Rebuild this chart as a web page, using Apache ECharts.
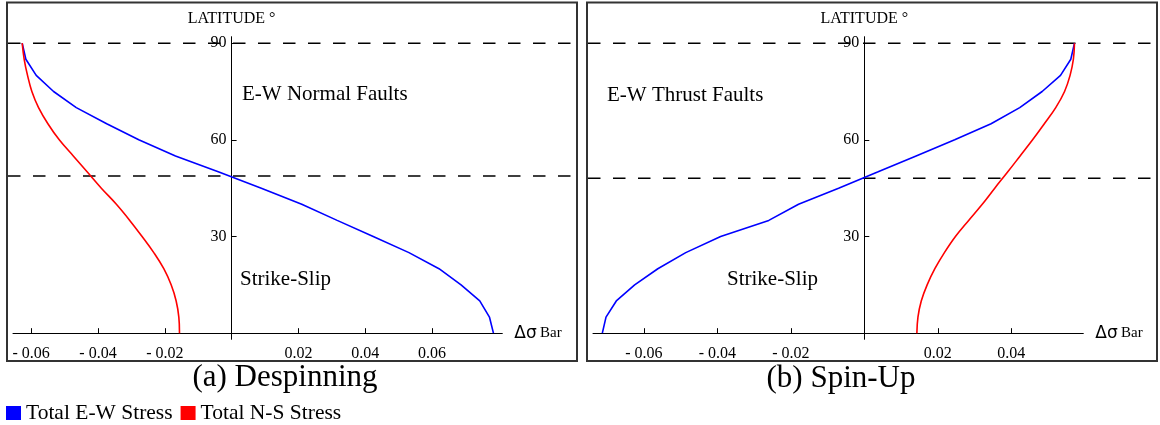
<!DOCTYPE html>
<html>
<head>
<meta charset="utf-8">
<script src="https://cdn.jsdelivr.net/npm/echarts@6/dist/echarts.min.js"></script>
<style>
  html, body { margin: 0; padding: 0; background: #fff; }
  #chart { width: 1160px; height: 425px; }
</style>
</head>
<body>
<div id="chart"></div>
<script>
// 纬度 (0..90, 每5度一个点)
const lat = [0, 5, 10, 15, 20, 25, 30, 35, 40, 45, 50, 55, 60, 65, 70, 75, 80, 85, 90]

// (a) Despinning
const ewDespin = [0.0784, 0.0772, 0.0743, 0.0687, 0.0621, 0.0531, 0.0424, 0.0316, 0.0210, 0.0089,
  -0.0038, -0.0168, -0.0278, -0.0374, -0.0465, -0.0533, -0.0585, -0.0616, -0.0627]
const nsDespin = [-0.0156, -0.0158, -0.0166, -0.0181, -0.0203, -0.0233, -0.0268, -0.0305, -0.0345, -0.0390,
  -0.0432, -0.0474, -0.0516, -0.0550, -0.0578, -0.0598, -0.0611, -0.0621, -0.0627]

// (b) Spin-Up
const ewSpinUp = [-0.0713, -0.0703, -0.0675, -0.0625, -0.0562, -0.0486, -0.0391, -0.0260, -0.0179, -0.0070,
  0.0036, 0.0141, 0.0246, 0.0345, 0.0423, 0.0484, 0.0534, 0.0562, 0.0572]
const nsSpinUp = [0.0143, 0.0146, 0.0155, 0.0171, 0.0192, 0.0218, 0.0248, 0.0284, 0.0321, 0.0355,
  0.0390, 0.0424, 0.0458, 0.0490, 0.0521, 0.0545, 0.0560, 0.0569, 0.0572]

// 虚线参考纬度
const refLatDespin = [90, 48.8]
const refLatSpinUp = [90, 48.1]

// 刻度
const yTicks = [30, 60, 90]
const xTicksDespin = [-0.06, -0.04, -0.02, 0.02, 0.04, 0.06]
const xTicksSpinUp = [-0.06, -0.04, -0.02, 0.02, 0.04]

// 坐标范围
const xRangeDespin = [-0.06545, 0.08105]
const xRangeSpinUp = [-0.07384, 0.0596]
const yRange = [-1.9, 92]

const serif = '"Liberation Serif", "Times New Roman", serif'
const BLUE = '#0000ff'
const RED = '#ff0000'

// 网格 (绘图区) 和 边框内的虚线区
const plotGrids = [
  { left: 13, top: 36.7, width: 489.3, height: 302.6 },
  { left: 593, top: 36.7, width: 490.3, height: 302.6 }
]
const frameGrids = [
  { left: 8, top: 36.7, width: 568, height: 302.6 },
  { left: 588, top: 36.7, width: 568, height: 302.6 }
]

let pairs = (xs) => xs.map((v, i) => [v, lat[i]])

let xFmt = (v) => v < 0 ? '- ' + (-v).toFixed(2) : v.toFixed(2)

let makeX = (gridIndex, range, ticks) => ({
  type: 'value',
  gridIndex: gridIndex,
  min: range[0],
  max: range[1],
  name: '{a|Δσ} {b|Bar}',
  nameLocation: 'end',
  nameGap: 12,
  nameTextStyle: {
    rich: {
      a: { fontFamily: '"DejaVu Sans", sans-serif', fontSize: 17, color: '#000' },
      b: { fontFamily: serif, fontSize: 15, color: '#000' }
    }
  },
  axisLine: { onZero: true, lineStyle: { color: '#000', width: 1 } },
  axisTick: { inside: true, length: 5, customValues: ticks, lineStyle: { color: '#000' } },
  axisLabel: {
    customValues: ticks,
    formatter: xFmt,
    margin: 6,
    fontFamily: serif,
    fontSize: 16,
    color: '#000'
  },
  splitLine: { show: false }
})

// y轴放在 x=0 处: 用 offset 把轴从网格左边移过去
let makeY = (gridIndex, xRange) => ({
  type: 'value',
  gridIndex: gridIndex,
  min: yRange[0],
  max: yRange[1],
  offset: -plotGrids[gridIndex].width * (0 - xRange[0]) / (xRange[1] - xRange[0]),
  name: 'LATITUDE °',
  nameLocation: 'end',
  nameGap: 10,
  nameTextStyle: { fontFamily: serif, fontSize: 16, color: '#000' },
  axisLine: { onZero: false, lineStyle: { color: '#000', width: 1 } },
  axisTick: { inside: true, length: 5, customValues: yTicks, lineStyle: { color: '#000' } },
  axisLabel: {
    customValues: yTicks,
    margin: 5,
    fontFamily: serif,
    fontSize: 16,
    color: '#000'
  },
  splitLine: { show: false }
})

// 隐藏轴 (虚线用)
let hiddenX = (gridIndex) => ({ type: 'value', gridIndex: gridIndex, min: 0, max: 1, show: false })
let hiddenY = (gridIndex) => ({ type: 'value', gridIndex: gridIndex, min: yRange[0], max: yRange[1], show: false })

let curve = (name, idx, xs, color, smooth) => ({
  name: name,
  type: 'line',
  xAxisIndex: idx,
  yAxisIndex: idx,
  data: pairs(xs),
  showSymbol: false,
  symbol: 'none',
  smooth: smooth,
  lineStyle: { color: color, width: 1.6 },
  itemStyle: { color: color },
  silent: true,
  z: 3
})

// 虚线 (横跨整个边框)
let refLine = (idx, latV) => ({
  name: 'ref',
  type: 'line',
  xAxisIndex: idx,
  yAxisIndex: idx,
  data: [[0, latV], [1, latV]],
  symbol: 'none',
  silent: true,
  lineStyle: { color: '#000', width: 1.5, type: [12.5, 12.5] },
  z: 2
})

let myChart = echarts.init(document.getElementById('chart'), null, { renderer: 'canvas' })

let options = {
  animation: false,
  backgroundColor: '#fff',
  grid: plotGrids.concat(frameGrids).map(g => Object.assign({ outerBoundsMode: 'none', containLabel: false }, g)),
  xAxis: [
    makeX(0, xRangeDespin, xTicksDespin),
    makeX(1, xRangeSpinUp, xTicksSpinUp),
    hiddenX(2),
    hiddenX(3)
  ],
  yAxis: [makeY(0, xRangeDespin), makeY(1, xRangeSpinUp), hiddenY(2), hiddenY(3)],
  legend: {
    data: ['Total E-W Stress', 'Total N-S Stress'],
    left: 6,
    top: 402,
    padding: 0,
    icon: 'rect',
    itemWidth: 15,
    itemHeight: 14,
    itemGap: 8,
    selectedMode: false,
    textStyle: { fontFamily: serif, fontSize: 21.5, color: '#000' }
  },
  series: [
    refLine(2, refLatDespin[0]),
    refLine(2, refLatDespin[1]),
    refLine(3, refLatSpinUp[0]),
    refLine(3, refLatSpinUp[1]),
    curve('Total E-W Stress', 0, ewDespin, BLUE, false),
    curve('Total N-S Stress', 0, nsDespin, RED, 0.4),
    curve('Total E-W Stress', 1, ewSpinUp, BLUE, false),
    curve('Total N-S Stress', 1, nsSpinUp, RED, 0.4)
  ],
  graphic: [
    // 边框
    { type: 'rect', shape: { x: 7, y: 2.5, width: 570, height: 358.5 },
      style: { fill: 'none', stroke: '#333', lineWidth: 2 }, silent: true },
    { type: 'rect', shape: { x: 587, y: 2.5, width: 570, height: 358.5 },
      style: { fill: 'none', stroke: '#333', lineWidth: 2 }, silent: true },
    // 标注
    { type: 'text', x: 242, y: 94,
      style: { text: 'E-W Normal Faults', font: '21px ' + serif, fill: '#000', verticalAlign: 'middle' } },
    { type: 'text', x: 240, y: 279,
      style: { text: 'Strike-Slip', font: '21px ' + serif, fill: '#000', verticalAlign: 'middle' } },
    { type: 'text', x: 607, y: 95,
      style: { text: 'E-W Thrust Faults', font: '21px ' + serif, fill: '#000', verticalAlign: 'middle' } },
    { type: 'text', x: 727, y: 279,
      style: { text: 'Strike-Slip', font: '21px ' + serif, fill: '#000', verticalAlign: 'middle' } },
    // 图题
    { type: 'text', x: 285, y: 378,
      style: { text: '(a) Despinning', font: '31px ' + serif, fill: '#000', align: 'center', verticalAlign: 'middle' } },
    { type: 'text', x: 841, y: 379,
      style: { text: '(b) Spin-Up', font: '31px ' + serif, fill: '#000', align: 'center', verticalAlign: 'middle' } }
  ]
}

myChart.setOption(options)
</script>
</body>
</html>
